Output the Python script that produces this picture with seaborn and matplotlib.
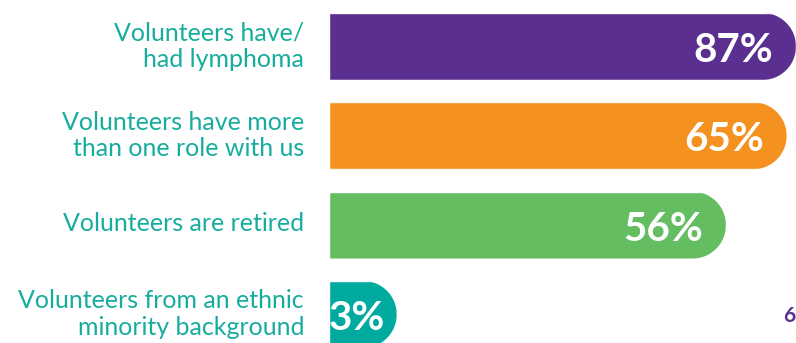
import matplotlib
matplotlib.use("Agg")
import matplotlib.pyplot as plt
import matplotlib.path as mpath
import matplotlib.transforms as mtransforms
import numpy as np
import pandas as pd
import seaborn as sns

# ---- data ----
categories = [
    "Volunteers have/\nhad lymphoma",
    "Volunteers have more\nthan one role with us",
    "Volunteers are retired",
    "Volunteers from an ethnic\nminority background",
]
values = [87, 65, 56, 3]                 # printed percentages
bar_length = [100.0, 98.0, 85.0, 14.5]   # drawn bar length (infographic, not to scale), % of track
colors = ["#5B2F8F", "#F5921F", "#65BD62", "#00AA9E"]
label_color = "#17AD9E"

df = pd.DataFrame({"category": categories, "length": bar_length, "value": values})

sns.set_theme(style="white")
plt.rcParams["font.family"] = ["Lato", "DejaVu Sans"]

fig = plt.figure(figsize=(7.96, 3.43), dpi=100)
ax = fig.add_axes([329 / 796, 0, (796 - 329) / 796, 1])

sns.barplot(data=df, y="category", x="length", hue="category", palette=colors,
            orient="h", width=0.75, legend=False, ax=ax, saturation=1)

ax.set_xlim(0, 100)
ax.set_ylim(3.32, -0.52)
ax.set_xlabel("")
ax.set_ylabel("")
ax.set_xticks([])
sns.despine(ax=ax, left=True, bottom=True)
ax.tick_params(axis="y", length=0, pad=18, labelsize=18, labelcolor=label_color)
shift_up = mtransforms.ScaledTranslation(0, 4 / 100, fig.dpi_scale_trans)
for t in ax.get_yticklabels():
    t.set_multialignment("right")
    t.set_linespacing(1.18)
    t.set_transform(t.get_transform() + shift_up)

# rounded right ends via clip paths
fig.canvas.draw()
px_per_x = ax.transData.transform((1, 0))[0] - ax.transData.transform((0, 0))[0]
px_per_y = abs(ax.transData.transform((0, 1))[1] - ax.transData.transform((0, 0))[1])
for p in ax.patches:
    x0 = p.get_x()
    w = p.get_width()
    y0 = p.get_y()
    h = p.get_height()
    x1 = x0 + w
    ry = h / 2
    rx = ry * px_per_y / px_per_x
    cy = y0 + h / 2
    th = np.linspace(-np.pi / 2, np.pi / 2, 60)
    arc = np.column_stack([x1 - rx + rx * np.cos(th), cy + ry * np.sin(th)])
    verts = np.vstack([[x0 - 1, y0], arc, [x0 - 1, y0 + h], [x0 - 1, y0]])
    p.set_clip_path(mpath.Path(verts, closed=True), ax.transData)

# value labels
for i, (length, v) in enumerate(zip(bar_length, values)):
    off = -12 if length < 30 else -23
    ax.annotate(f"{v}%", xy=(length, i), xytext=(off, -15.5), textcoords="offset pixels",
                ha="right", va="baseline", color="white", fontsize=29,
                fontweight="bold")

# fragment of neighbouring graphic at the bottom-right edge
fig.text(795 / 796, 1 - 322 / 343, "6", color="#5B2F8F", fontsize=15,
         fontweight="bold", ha="right", va="baseline")

fig.savefig("out.png", dpi=100)
